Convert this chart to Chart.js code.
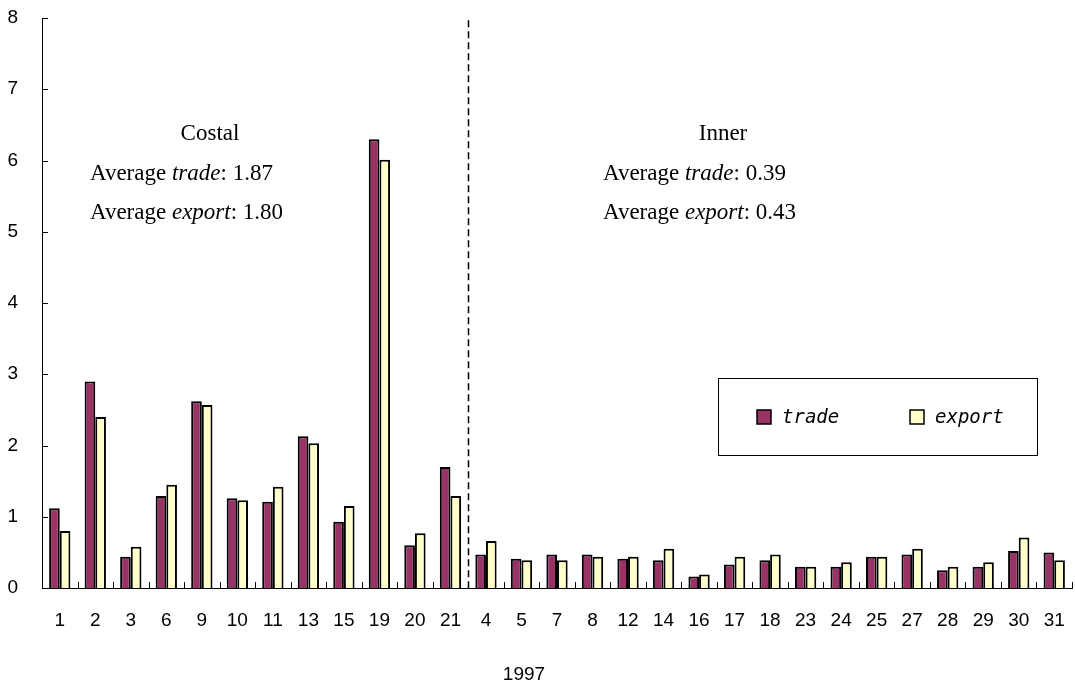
<!DOCTYPE html>
<html>
<head>
<meta charset="utf-8">
<script src="https://cdn.jsdelivr.net/npm/chart.js@4/dist/chart.umd.min.js"></script>
<style>
  html, body { margin: 0; padding: 0; background: #fff; }
  #wrap { width: 1075px; height: 685px; position: relative; }
</style>
</head>
<body>
<div id="wrap"><canvas id="c" width="1075" height="685"></canvas></div>
<script>
// ---- data ----
const categories = ['1','2','3','6','9','10','11','13','15','19','20','21',
                    '4','5','7','8','12','14','16','17','18','23','24','25','27','28','29','30','31'];
const tradeValues  = [1.12, 2.90, 0.44, 1.29, 2.62, 1.26, 1.21, 2.13, 0.93, 6.30, 0.60, 1.70,
                      0.47, 0.41, 0.47, 0.47, 0.41, 0.39, 0.16, 0.33, 0.39, 0.30, 0.30, 0.44, 0.47, 0.25, 0.30, 0.52, 0.50];
const exportValues = [0.80, 2.40, 0.58, 1.45, 2.57, 1.23, 1.42, 2.03, 1.15, 6.01, 0.77, 1.29,
                      0.66, 0.39, 0.39, 0.44, 0.44, 0.55, 0.19, 0.44, 0.47, 0.30, 0.36, 0.44, 0.55, 0.30, 0.36, 0.71, 0.39];
const seriesNames = ['trade', 'export'];
const yTicks = [0, 1, 2, 3, 4, 5, 6, 7, 8];
const xTitle = '1997';
const coastalCount = 12;  // first 12 categories are coastal
const groupNotes = [
  { title: 'Costal', trade: '1.87', export: '1.80' },
  { title: 'Inner',  trade: '0.39', export: '0.43' }
];

const TICK_FONT = '"Liberation Sans", Arial, sans-serif';
const SERIF = '"Liberation Serif", "Times New Roman", serif';
const LEG_FONT = '"DejaVu Sans Mono", monospace';

const overlay = {
  id: 'overlay',
  afterDraw(chart) {
    const ctx = chart.ctx;
    const xs = chart.scales.x, ys = chart.scales.y;
    const area = chart.chartArea;
    const y0 = ys.getPixelForValue(0);
    const step = xs.getPixelForValue(1) - xs.getPixelForValue(0);
    ctx.save();
    ctx.strokeStyle = '#000';
    ctx.lineWidth = 1;
    ctx.beginPath();
    for (let i = 1; i <= categories.length; i++) {
      const bx = Math.round(xs.getPixelForValue(i - 1) + step / 2) + 0.5;
      ctx.moveTo(bx, y0);
      ctx.lineTo(bx, y0 - 6);
    }
    yTicks.forEach(v => {
      const py = Math.round(ys.getPixelForValue(v)) + 0.5;
      ctx.moveTo(area.left, py);
      ctx.lineTo(area.left + 6, py);
    });
    ctx.stroke();

    // dashed separator between coastal and inner groups
    const sx = Math.round(xs.getPixelForValue(coastalCount - 1) + step / 2) + 0.5;
    ctx.setLineDash([7, 4]);
    ctx.lineWidth = 1.5;
    ctx.beginPath();
    ctx.moveTo(sx, ys.getPixelForValue(7.97));
    ctx.lineTo(sx, y0);
    ctx.stroke();
    ctx.setLineDash([]);

    // x axis title
    ctx.fillStyle = '#000';
    ctx.font = '19px ' + TICK_FONT;
    ctx.textAlign = 'center';
    ctx.textBaseline = 'middle';
    ctx.fillText(xTitle, 524, 675);

    // group annotations
    const drawRuns = (runs, x, y) => {
      let cx = x;
      runs.forEach(r => {
        ctx.font = (r.i ? 'italic ' : '') + '23px ' + SERIF;
        ctx.fillText(r.t, cx, y);
        cx += ctx.measureText(r.t).width;
      });
    };
    const notePos = [
      { cx: 210, lx: 90 },
      { cx: 723, lx: 603 }
    ];
    groupNotes.forEach((g, k) => {
      ctx.font = '23px ' + SERIF;
      ctx.textAlign = 'center';
      ctx.fillText(g.title, notePos[k].cx, 134);
      ctx.textAlign = 'left';
      drawRuns([{t: 'Average '}, {t: 'trade', i: true}, {t: ': ' + g.trade}], notePos[k].lx, 174);
      drawRuns([{t: 'Average '}, {t: 'export', i: true}, {t: ': ' + g.export}], notePos[k].lx, 213);
    });

    // legend box
    ctx.strokeStyle = '#000';
    ctx.lineWidth = 1;
    ctx.strokeRect(718.5, 378.5, 319, 77);
    const legItems = [{ x: 757 }, { x: 910 }];
    chart.data.datasets.forEach((ds, k) => {
      const lx = legItems[k].x;
      ctx.fillStyle = ds.backgroundColor;
      ctx.fillRect(lx, 410, 14, 14);
      ctx.lineWidth = 1.5;
      ctx.strokeStyle = '#000';
      ctx.strokeRect(lx, 410, 14, 14);
      ctx.fillStyle = '#000';
      ctx.font = 'italic 19px ' + LEG_FONT;
      ctx.textAlign = 'left';
      ctx.textBaseline = 'middle';
      ctx.fillText(ds.label, lx + 25, 418);
    });
    ctx.restore();
  }
};

new Chart(document.getElementById('c'), {
  type: 'bar',
  data: {
    labels: categories,
    datasets: [
      { label: seriesNames[0], data: tradeValues, backgroundColor: '#993366', borderColor: '#000', borderWidth: 2 },
      { label: seriesNames[1], data: exportValues, backgroundColor: '#FFFFCC', borderColor: '#000', borderWidth: 2 }
    ]
  },
  options: {
    responsive: false,
    animation: false,
    devicePixelRatio: 1,
    layout: { padding: { top: 18, right: 3, left: 0, bottom: 0 } },
    datasets: { bar: { categoryPercentage: 0.6, barPercentage: 1.0 } },
    plugins: { legend: { display: false }, tooltip: { enabled: false } },
    scales: {
      x: {
        grid: { display: false },
        border: { display: true, color: '#000', width: 1 },
        ticks: { color: '#000', font: { family: TICK_FONT, size: 19 }, padding: 13, maxRotation: 0, autoSkip: false },
        title: { display: false },
        afterFit(scale) { scale.height = 97; scale.paddingLeft = 0; scale.paddingRight = 0; }
      },
      y: {
        min: 0, max: 8,
        grid: { display: false },
        border: { display: true, color: '#000', width: 1 },
        ticks: { stepSize: 1, color: '#000', font: { family: TICK_FONT, size: 19 }, padding: 16 },
        afterFit(scale) { scale.width = 42; scale.paddingTop = 0; scale.paddingBottom = 0; }
      }
    }
  },
  plugins: [overlay]
});
</script>
</body>
</html>
